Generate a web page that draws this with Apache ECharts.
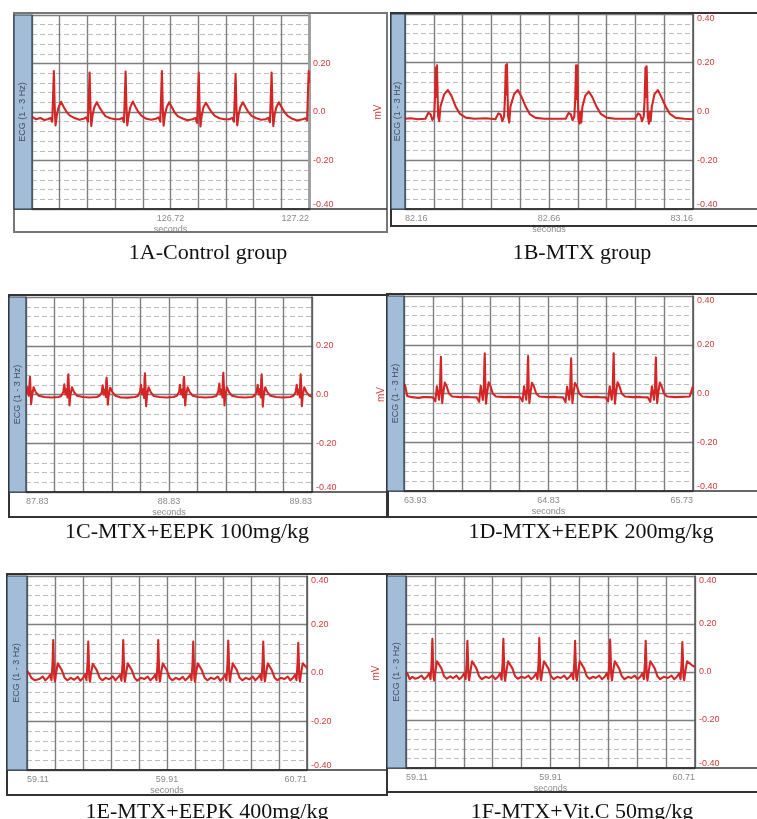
<!DOCTYPE html>
<html>
<head>
<meta charset="utf-8">
<script src="https://cdn.jsdelivr.net/npm/echarts@6/dist/echarts.min.js"></script>
<style>
html,body{margin:0;padding:0;background:#fff}
#chart{width:757px;height:819px}
</style>
</head>
<body>
<div id="chart"></div>
<script>
// ECG traces: [seconds from left edge of the window, mV]
var ecgA = [
  [0,-0.02],[0.015,-0.03],[0.03,-0.025],[0.045,-0.033],
  [0.057,-0.03],[0.067,-0.025],[0.073,-0.04],[0.076,0.06],[0.079,0.169],[0.082,0.02],[0.085,-0.055],[0.090,-0.01],[0.096,0.02],[0.105,0.042],[0.115,0.02],[0.125,0.0],[0.137,-0.015],[0.154,-0.025],[0.171,-0.032],
  [0.186,-0.028],[0.196,-0.022],[0.202,-0.04],[0.205,0.06],[0.208,0.163],[0.211,0.02],[0.214,-0.058],[0.219,-0.01],[0.225,0.02],[0.234,0.04],[0.244,0.018],[0.254,0.0],[0.266,-0.018],[0.283,-0.026],[0.300,-0.03],
  [0.316,-0.03],[0.326,-0.024],[0.332,-0.042],[0.335,0.06],[0.338,0.167],[0.341,0.02],[0.344,-0.055],[0.349,-0.012],[0.355,0.02],[0.364,0.043],[0.374,0.02],[0.384,0.0],[0.396,-0.016],[0.413,-0.028],[0.430,-0.032],
  [0.447,-0.028],[0.457,-0.022],[0.463,-0.04],[0.466,0.06],[0.469,0.169],[0.472,0.02],[0.475,-0.056],[0.480,-0.01],[0.486,0.018],[0.495,0.04],[0.505,0.02],[0.515,-0.002],[0.527,-0.018],[0.544,-0.027],[0.561,-0.034],
  [0.580,-0.03],[0.590,-0.025],[0.596,-0.045],[0.599,0.06],[0.602,0.163],[0.605,0.02],[0.608,-0.06],[0.613,-0.012],[0.619,0.02],[0.628,0.038],[0.638,0.018],[0.648,0.0],[0.660,-0.016],[0.677,-0.026],[0.694,-0.03],
  [0.713,-0.03],[0.723,-0.024],[0.729,-0.04],[0.732,0.06],[0.735,0.156],[0.738,0.02],[0.741,-0.055],[0.746,-0.01],[0.752,0.02],[0.761,0.04],[0.771,0.02],[0.781,0.0],[0.793,-0.016],[0.810,-0.026],[0.827,-0.032],
  [0.843,-0.03],[0.853,-0.024],[0.859,-0.042],[0.862,0.06],[0.865,0.163],[0.868,0.02],[0.871,-0.058],[0.876,-0.01],[0.882,0.02],[0.891,0.04],[0.901,0.02],[0.911,0.0],[0.923,-0.016],[0.940,-0.028],[0.957,-0.035],
  [0.977,-0.03],[0.987,-0.026],[0.993,-0.035],[0.996,0.07],[0.999,0.169],[1.0,0.12]
];
var ecgB = [
  [0,-0.03],[0.02,-0.028],[0.045,-0.032],
  [0.071,-0.03],[0.081,-0.005],[0.089,-0.012],[0.095,-0.035],[0.101,-0.02],[0.104,0.05],[0.107,0.18],[0.109,0.06],[0.111,0.19],[0.115,-0.02],[0.119,-0.04],[0.123,0.02],[0.136,0.07],[0.149,0.088],[0.161,0.065],[0.176,0.02],[0.191,-0.01],[0.211,-0.025],[0.241,-0.03],[0.281,-0.028],
  [0.314,-0.032],[0.324,-0.008],[0.332,-0.012],[0.338,-0.04],[0.344,-0.02],[0.347,0.05],[0.350,0.19],[0.352,0.07],[0.354,0.195],[0.358,-0.02],[0.362,-0.045],[0.366,0.02],[0.379,0.072],[0.392,0.088],[0.404,0.062],[0.419,0.02],[0.434,-0.012],[0.454,-0.026],[0.484,-0.03],[0.524,-0.03],
  [0.558,-0.03],[0.568,-0.006],[0.576,-0.012],[0.582,-0.036],[0.588,-0.02],[0.591,0.05],[0.594,0.19],[0.596,0.05],[0.598,0.19],[0.602,-0.03],[0.606,-0.05],[0.609,0.0],[0.612,-0.045],[0.616,0.02],[0.626,0.065],[0.638,0.082],[0.650,0.06],[0.665,0.02],[0.680,-0.01],[0.700,-0.025],[0.730,-0.03],[0.765,-0.03],
  [0.799,-0.03],[0.809,-0.008],[0.817,-0.014],[0.823,-0.04],[0.829,-0.02],[0.832,0.05],[0.835,0.18],[0.837,0.06],[0.839,0.185],[0.843,-0.02],[0.847,-0.05],[0.850,0.0],[0.853,-0.04],[0.857,0.02],[0.866,0.07],[0.878,0.088],[0.890,0.06],[0.905,0.02],[0.920,-0.01],[0.940,-0.026],[0.970,-0.03],[1.0,-0.032]
];
var ecgC = [
  [0,0.0],[0.01,0.03],[0.02,-0.005],[0.025,0.05],[0.028,0.073],[0.032,0.02],[0.036,-0.04],[0.042,-0.005],[0.053,0.03],[0.068,0.01],[0.088,-0.005],[0.128,-0.01],[0.178,-0.012],[0.228,-0.01],
  [0.246,-0.006],[0.261,0.01],[0.268,0.042],[0.276,0.0],[0.284,0.022],[0.290,-0.012],[0.293,0.06],[0.296,0.083],[0.300,0.03],[0.304,-0.045],[0.310,-0.005],[0.321,0.03],[0.336,0.01],[0.356,-0.005],[0.396,-0.01],[0.446,-0.012],[0.496,-0.01],
  [0.514,-0.005],[0.529,0.008],[0.536,0.038],[0.544,0.0],[0.552,0.02],[0.558,-0.01],[0.561,0.055],[0.564,0.069],[0.568,0.025],[0.572,-0.042],[0.578,-0.005],[0.589,0.028],[0.604,0.01],[0.624,-0.005],[0.664,-0.012],[0.714,-0.013],[0.764,-0.01],
  [0.782,-0.006],[0.797,0.01],[0.804,0.04],[0.812,0.0],[0.820,0.022],[0.826,-0.014],[0.829,0.065],[0.832,0.087],[0.836,0.03],[0.840,-0.048],[0.846,-0.005],[0.857,0.03],[0.872,0.01],[0.892,-0.006],[0.932,-0.01],[0.982,-0.012],[1.032,-0.01],
  [1.055,-0.005],[1.070,0.01],[1.077,0.04],[1.085,0.0],[1.093,0.02],[1.099,-0.012],[1.102,0.06],[1.105,0.073],[1.109,0.03],[1.113,-0.045],[1.119,-0.005],[1.130,0.03],[1.145,0.01],[1.165,-0.005],[1.205,-0.01],[1.255,-0.012],[1.305,-0.01],
  [1.330,-0.006],[1.345,0.012],[1.352,0.045],[1.360,0.0],[1.368,0.02],[1.374,-0.012],[1.377,0.065],[1.380,0.089],[1.384,0.03],[1.388,-0.045],[1.394,-0.005],[1.405,0.03],[1.420,0.01],[1.440,-0.005],[1.480,-0.01],[1.530,-0.012],[1.580,-0.01],
  [1.598,-0.005],[1.613,0.01],[1.620,0.04],[1.628,0.0],[1.636,0.022],[1.642,-0.012],[1.645,0.06],[1.648,0.083],[1.652,0.03],[1.656,-0.05],[1.662,-0.005],[1.673,0.03],[1.688,0.01],[1.708,-0.005],[1.748,-0.01],[1.798,-0.012],[1.848,-0.01],
  [1.871,-0.005],[1.886,0.01],[1.893,0.04],[1.901,0.0],[1.909,0.02],[1.915,-0.012],[1.918,0.06],[1.921,0.083],[1.925,0.03],[1.929,-0.048],[1.935,-0.005],[1.946,0.03],[1.961,0.01],[1.981,-0.005],[2.0,-0.008]
];
var ecgD = [
  [0,0.04],[0.008,0.03],[0.02,-0.01],[0.05,-0.015],[0.09,-0.018],[0.12,-0.015],
  [0.140,-0.015],[0.180,-0.016],[0.195,-0.032],[0.205,0.03],[0.212,0.0],[0.218,-0.025],[0.224,0.02],[0.228,0.12],[0.230,0.151],[0.234,0.02],[0.238,-0.04],[0.244,0.0],[0.254,0.045],[0.266,0.03],[0.280,0.0],[0.300,-0.012],[0.350,-0.015],[0.390,-0.014],
  [0.413,-0.015],[0.453,-0.016],[0.468,-0.034],[0.478,0.032],[0.485,0.0],[0.491,-0.026],[0.497,0.02],[0.501,0.13],[0.503,0.165],[0.507,0.02],[0.511,-0.042],[0.517,0.0],[0.527,0.046],[0.539,0.03],[0.553,0.0],[0.573,-0.012],[0.623,-0.015],[0.663,-0.014],
  [0.683,-0.015],[0.723,-0.015],[0.738,-0.032],[0.748,0.03],[0.755,0.0],[0.761,-0.025],[0.767,0.02],[0.771,0.12],[0.773,0.154],[0.777,0.02],[0.781,-0.04],[0.787,0.0],[0.797,0.044],[0.809,0.03],[0.823,0.0],[0.843,-0.012],[0.893,-0.015],[0.933,-0.014],
  [0.951,-0.015],[0.991,-0.016],[1.006,-0.035],[1.016,0.028],[1.023,0.0],[1.029,-0.025],[1.035,0.02],[1.039,0.11],[1.041,0.144],[1.045,0.02],[1.049,-0.04],[1.055,0.0],[1.065,0.043],[1.077,0.03],[1.091,0.0],[1.111,-0.012],[1.161,-0.015],[1.201,-0.014],
  [1.216,-0.015],[1.256,-0.016],[1.271,-0.032],[1.281,0.03],[1.288,0.0],[1.294,-0.025],[1.300,0.02],[1.304,0.13],[1.306,0.165],[1.310,0.02],[1.314,-0.042],[1.320,0.0],[1.330,0.046],[1.342,0.03],[1.356,0.0],[1.376,-0.012],[1.426,-0.015],[1.466,-0.014],
  [1.479,-0.015],[1.519,-0.016],[1.534,-0.034],[1.544,0.03],[1.551,0.0],[1.557,-0.025],[1.563,0.02],[1.567,0.12],[1.569,0.148],[1.573,0.02],[1.577,-0.04],[1.583,0.0],[1.593,0.045],[1.605,0.03],[1.619,0.0],[1.639,-0.012],[1.689,-0.015],[1.729,-0.014],[1.78,-0.012],[1.795,0.02],[1.8,0.03]
];
var ecgE = [
  [0,0.01],[0.01,0.0],[0.025,-0.02],[0.045,-0.03],[0.055,-0.025],
  [0.070,-0.025],[0.090,-0.015],[0.105,-0.03],[0.120,-0.02],[0.132,-0.008],[0.140,-0.03],[0.146,0.04],[0.150,0.136],[0.153,0.06],[0.156,-0.02],[0.160,-0.035],[0.166,0.0],[0.176,0.04],[0.186,0.042],[0.200,0.01],[0.215,-0.02],[0.230,-0.03],[0.250,-0.02],
  [0.270,-0.028],[0.290,-0.016],[0.305,-0.032],[0.320,-0.02],[0.332,-0.006],[0.340,-0.03],[0.346,0.04],[0.350,0.13],[0.353,0.06],[0.356,-0.02],[0.360,-0.036],[0.366,0.0],[0.376,0.038],[0.386,0.04],[0.400,0.01],[0.415,-0.02],[0.430,-0.03],[0.450,-0.02],
  [0.470,-0.026],[0.490,-0.014],[0.505,-0.03],[0.520,-0.018],[0.532,-0.008],[0.540,-0.032],[0.546,0.04],[0.550,0.136],[0.553,0.06],[0.556,-0.02],[0.560,-0.035],[0.566,0.0],[0.576,0.04],[0.586,0.044],[0.600,0.01],[0.615,-0.02],[0.630,-0.032],[0.650,-0.02],
  [0.670,-0.025],[0.690,-0.015],[0.705,-0.03],[0.720,-0.02],[0.732,-0.008],[0.740,-0.03],[0.746,0.04],[0.750,0.136],[0.753,0.06],[0.756,-0.02],[0.760,-0.035],[0.766,0.0],[0.776,0.04],[0.786,0.042],[0.800,0.01],[0.815,-0.02],[0.830,-0.03],[0.850,-0.02],
  [0.870,-0.027],[0.890,-0.016],[0.905,-0.03],[0.920,-0.02],[0.932,-0.008],[0.940,-0.03],[0.946,0.04],[0.950,0.13],[0.953,0.06],[0.956,-0.02],[0.960,-0.036],[0.966,0.0],[0.976,0.04],[0.986,0.042],[1.000,0.01],[1.015,-0.02],[1.030,-0.03],[1.050,-0.02],
  [1.070,-0.025],[1.090,-0.015],[1.105,-0.032],[1.120,-0.02],[1.132,-0.008],[1.140,-0.03],[1.146,0.045],[1.150,0.134],[1.153,0.07],[1.156,-0.01],[1.160,-0.035],[1.166,0.0],[1.176,0.04],[1.186,0.042],[1.200,0.01],[1.215,-0.02],[1.230,-0.03],[1.250,-0.02],
  [1.270,-0.026],[1.290,-0.015],[1.305,-0.03],[1.320,-0.02],[1.332,-0.008],[1.340,-0.03],[1.346,0.04],[1.350,0.13],[1.353,0.06],[1.356,-0.02],[1.360,-0.035],[1.366,0.0],[1.376,0.04],[1.386,0.042],[1.400,0.01],[1.415,-0.02],[1.430,-0.03],[1.450,-0.02],
  [1.470,-0.025],[1.490,-0.015],[1.505,-0.03],[1.520,-0.02],[1.532,-0.008],[1.540,-0.03],[1.546,0.04],[1.550,0.125],[1.553,0.06],[1.556,-0.02],[1.560,-0.035],[1.566,0.0],[1.576,0.04],[1.586,0.04],[1.6,0.02]
];
var ecgF = [
  [0,0.0],[0.01,-0.01],[0.02,-0.03],[0.035,-0.02],[0.05,-0.028],
  [0.066,-0.025],[0.086,-0.015],[0.101,-0.03],[0.116,-0.02],[0.128,-0.006],[0.136,-0.03],[0.142,0.04],[0.146,0.138],[0.149,0.06],[0.152,-0.02],[0.156,-0.035],[0.162,0.0],[0.172,0.045],[0.182,0.05],[0.196,0.015],[0.211,-0.018],[0.226,-0.028],[0.246,-0.018],
  [0.260,-0.026],[0.280,-0.015],[0.295,-0.03],[0.310,-0.02],[0.322,-0.006],[0.330,-0.03],[0.336,0.04],[0.340,0.13],[0.343,0.06],[0.346,-0.02],[0.350,-0.035],[0.356,0.0],[0.366,0.045],[0.376,0.048],[0.390,0.015],[0.405,-0.018],[0.420,-0.03],[0.440,-0.02],
  [0.459,-0.025],[0.479,-0.015],[0.494,-0.03],[0.509,-0.02],[0.521,-0.006],[0.529,-0.032],[0.535,0.04],[0.539,0.138],[0.542,0.06],[0.545,-0.02],[0.549,-0.036],[0.555,0.0],[0.565,0.045],[0.575,0.05],[0.589,0.015],[0.604,-0.018],[0.619,-0.028],[0.639,-0.02],
  [0.658,-0.025],[0.678,-0.015],[0.693,-0.03],[0.708,-0.02],[0.720,-0.006],[0.728,-0.03],[0.734,0.04],[0.738,0.142],[0.741,0.06],[0.744,-0.02],[0.748,-0.035],[0.754,0.0],[0.764,0.045],[0.774,0.05],[0.788,0.015],[0.803,-0.018],[0.818,-0.03],[0.838,-0.02],
  [0.856,-0.025],[0.876,-0.015],[0.891,-0.03],[0.906,-0.02],[0.918,-0.006],[0.926,-0.03],[0.932,0.04],[0.936,0.13],[0.939,0.06],[0.942,-0.02],[0.946,-0.035],[0.952,0.0],[0.962,0.045],[0.972,0.048],[0.986,0.015],[1.001,-0.018],[1.016,-0.028],[1.036,-0.02],
  [1.050,-0.025],[1.070,-0.015],[1.085,-0.03],[1.100,-0.02],[1.112,-0.006],[1.120,-0.03],[1.126,0.045],[1.130,0.135],[1.133,0.07],[1.136,-0.01],[1.140,-0.035],[1.146,0.0],[1.156,0.045],[1.166,0.05],[1.180,0.015],[1.195,-0.018],[1.210,-0.03],[1.230,-0.02],
  [1.247,-0.025],[1.267,-0.015],[1.282,-0.03],[1.297,-0.02],[1.309,-0.006],[1.317,-0.03],[1.323,0.04],[1.327,0.13],[1.330,0.06],[1.333,-0.02],[1.337,-0.035],[1.343,0.0],[1.353,0.045],[1.363,0.048],[1.377,0.015],[1.392,-0.018],[1.407,-0.03],[1.427,-0.02],
  [1.450,-0.025],[1.470,-0.015],[1.485,-0.03],[1.500,-0.02],[1.512,-0.006],[1.520,-0.03],[1.526,0.04],[1.530,0.125],[1.533,0.06],[1.536,-0.02],[1.540,-0.035],[1.546,0.0],[1.556,0.045],[1.566,0.05],[1.58,0.03],[1.6,0.02]
];

var captions = ['1A-Control group', '1B-MTX group', '1C-MTX+EEPK 100mg/kg',
                '1D-MTX+EEPK 200mg/kg', '1E-MTX+EEPK 400mg/kg', '1F-MTX+Vit.C 50mg/kg'];
var startSec = [126.22, 82.16, 87.83, 63.93, 59.11, 59.11];
var spanSec = [1.0, 1.0, 2.0, 1.8, 1.6, 1.6];
var xLabels = [
  ['126.72', '127.22'],
  ['82.16', '82.66', '83.16'],
  ['87.83', '88.83', '89.83'],
  ['63.93', '64.83', '65.73'],
  ['59.11', '59.91', '60.71'],
  ['59.11', '59.91', '60.71']
];
var yLabelsShort = ['0.20', '0.0', '-0.20', '-0.40'];
var yLabelsFull = ['0.40', '0.20', '0.0', '-0.20', '-0.40'];
var channelName = 'ECG (1 - 3 Hz)';

var traces = [ecgA, ecgB, ecgC, ecgD, ecgE, ecgF];
var yLabelSets = [yLabelsShort, yLabelsFull, yLabelsShort, yLabelsFull, yLabelsFull, yLabelsFull];

// page layout in px: outer frame, blue channel strip width, plot box, caption centre
var panels = [
  {frame: [14, 13, 373, 219], strip: 18, plot: [32, 15, 277, 194], cap: [208, 253]},
  {frame: [391, 13, 380, 213], strip: 14, plot: [405, 14, 288, 195], cap: [582, 253]},
  {frame: [9, 295, 379, 222], strip: 17, plot: [26, 297, 286, 195], cap: [187, 532]},
  {frame: [387, 294, 380, 223], strip: 17, plot: [404, 296, 289, 195], cap: [591, 532]},
  {frame: [7, 574, 380, 221], strip: 20, plot: [27, 576, 280, 194], cap: [207, 812]},
  {frame: [387, 574, 380, 218], strip: 19, plot: [406, 576, 289, 192], cap: [582, 812]}
];

function xFormatter(t0, labels) {
  return function (v) {
    var s = (t0 + v).toFixed(2);
    return labels.indexOf(s) >= 0 ? s : '';
  };
}
function yFormatter(labels) {
  return function (v) {
    for (var k = 0; k < labels.length; k++) {
      if (Math.abs(parseFloat(labels[k]) - v) < 1e-6) return labels[k];
    }
    return '';
  };
}

var grids = [], xAxes = [], yAxes = [], series = [], graphics = [];

panels.forEach(function (p, i) {
  grids.push({left: p.plot[0], top: p.plot[1], width: p.plot[2], height: p.plot[3],
              containLabel: false, outerBoundsMode: 'none'});

  xAxes.push({
    gridIndex: i, type: 'value', min: 0, max: spanSec[i], interval: spanSec[i] / 10,
    axisLine: {show: true, onZero: false, lineStyle: {color: '#333', width: 1.5}},
    axisTick: {show: false},
    splitLine: {show: true, lineStyle: {color: '#7e7e7e', width: 1.4}},
    axisLabel: {
      interval: 0, fontSize: 9, color: '#8a8a8a', margin: 5,
      alignMinLabel: 'left', alignMaxLabel: 'right',
      formatter: xFormatter(startSec[i], xLabels[i])
    },
    name: 'seconds', nameLocation: 'middle', nameGap: 16,
    nameTextStyle: {fontSize: 9, color: '#8a8a8a'}
  });

  // fine dashed grid
  yAxes.push({
    gridIndex: i, type: 'value', position: 'left', min: -0.4, max: 0.4, interval: 0.04,
    axisLine: {show: false}, axisTick: {show: false}, axisLabel: {show: false},
    splitLine: {show: true, lineStyle: {color: '#bcbcbc', width: 1, type: [5, 3]}}
  });
  // main mV axis on the right
  yAxes.push({
    gridIndex: i, type: 'value', position: 'right', min: -0.4, max: 0.4, interval: 0.2,
    axisLine: {show: true, onZero: false, lineStyle: {color: i === 0 ? '#a0a0a0' : '#555', width: i === 0 ? 3 : 1.5}},
    axisTick: {show: false},
    splitLine: {show: true, lineStyle: {color: '#7e7e7e', width: 1.4}},
    axisLabel: {
      fontSize: 9, color: '#d03a3a', margin: 4,
      verticalAlignMaxLabel: 'top', verticalAlignMinLabel: 'bottom',
      formatter: yFormatter(yLabelSets[i])
    },
    name: 'mV', nameLocation: 'middle', nameRotate: 90, nameGap: 64,
    nameTextStyle: {fontSize: 10, color: '#d03a3a'}
  });

  series.push({
    type: 'line', xAxisIndex: i, yAxisIndex: i * 2 + 1,
    data: traces[i], showSymbol: false, silent: true,
    lineStyle: {color: '#d42626', width: 2.1, join: 'round'}
  });

  var f = p.frame, pl = p.plot;
  graphics.push({
    type: 'rect', z: 100,
    shape: {x: f[0], y: f[1], width: f[2], height: f[3]},
    style: {fill: null, stroke: i === 0 ? '#777' : '#333', lineWidth: 2}
  });
  graphics.push({
    type: 'line', z: 100,
    shape: {x1: f[0], y1: pl[1] + pl[3], x2: f[0] + f[2], y2: pl[1] + pl[3]},
    style: {stroke: '#333', lineWidth: 1.5}
  });
  graphics.push({
    type: 'rect', z: 101,
    shape: {x: f[0], y: pl[1], width: p.strip, height: pl[3]},
    style: {fill: '#a3bcd8', stroke: '#2f3d4d', lineWidth: 1.2}
  });
  graphics.push({
    type: 'text', z: 102,
    x: f[0] + p.strip / 2, y: pl[1] + pl[3] / 2, rotation: Math.PI / 2,
    style: {text: channelName, fontSize: 9, fill: '#3d4f63', align: 'center', verticalAlign: 'middle',
            fontFamily: 'Liberation Sans, Arial, sans-serif'}
  });
  graphics.push({
    type: 'text', z: 102,
    x: p.cap[0], y: p.cap[1],
    style: {text: captions[i], fontSize: 22, fill: '#111', align: 'center', verticalAlign: 'middle',
            fontFamily: 'Liberation Serif, Times New Roman, serif'}
  });
});

var chart = echarts.init(document.getElementById('chart'));
chart.setOption({
  animation: false,
  backgroundColor: '#fff',
  textStyle: {fontFamily: 'Liberation Sans, Arial, sans-serif'},
  grid: grids,
  xAxis: xAxes,
  yAxis: yAxes,
  series: series,
  graphic: graphics
});
</script>
</body>
</html>
